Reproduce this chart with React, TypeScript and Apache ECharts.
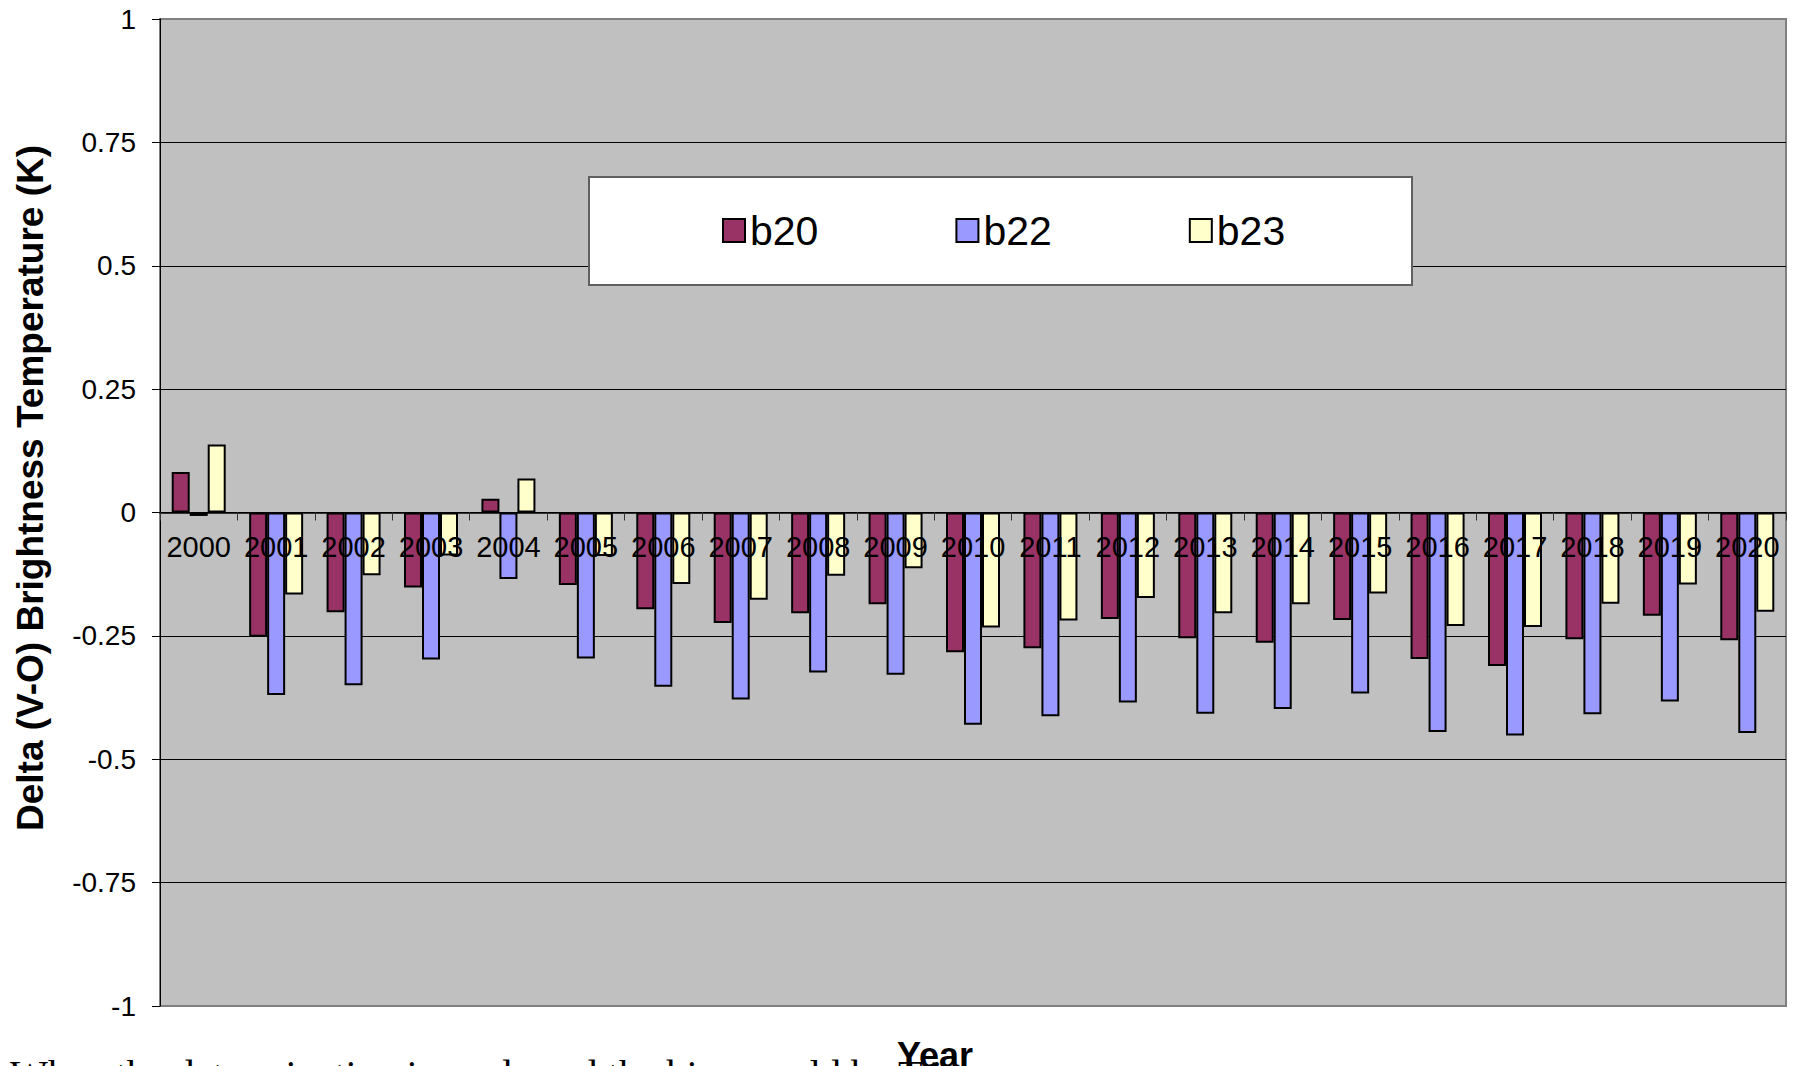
import React, { useEffect, useRef } from "react";
import * as echarts from "echarts";

const years = ["2000", "2001", "2002", "2003", "2004", "2005", "2006", "2007", "2008", "2009", "2010", "2011", "2012", "2013", "2014", "2015", "2016", "2017", "2018", "2019", "2020"];
const b20 = [0.082, -0.252, -0.202, -0.152, 0.028, -0.147, -0.196, -0.224, -0.204, -0.186, -0.283, -0.275, -0.216, -0.255, -0.264, -0.218, -0.297, -0.311, -0.257, -0.209, -0.259];
const b22 = [-0.007, -0.37, -0.35, -0.298, -0.135, -0.296, -0.353, -0.379, -0.324, -0.329, -0.43, -0.413, -0.385, -0.408, -0.398, -0.367, -0.445, -0.452, -0.409, -0.383, -0.447];
const b23 = [0.138, -0.166, -0.127, -0.087, 0.069, -0.088, -0.145, -0.177, -0.128, -0.113, -0.233, -0.219, -0.173, -0.204, -0.186, -0.164, -0.23, -0.232, -0.185, -0.146, -0.201];
const seriesNames = ["b20", "b22", "b23"];
const seriesColors = ["#993366", "#9999FF", "#FFFFCC"];
const yTitle = "Delta (V-O) Brightness Temperature (K)";
const xTitle = "Year";
const bodyText = "When the determination is made and the bias would be T in";

const SANS = "'Liberation Sans', Arial, sans-serif";
const SERIF = "'Liberation Serif', 'Times New Roman', serif";

const GRID_TOP = 19;
const GRID_BOTTOM = 60;
const CHART_H = 1066;

export default function App() {
  const ref = useRef<HTMLDivElement>(null);
  useEffect(() => {
    if (!ref.current) return;
    const chart = echarts.init(ref.current, undefined, { renderer: "svg" });
    const data = [b20, b22, b23];
    const gridH = CHART_H - GRID_TOP - GRID_BOTTOM;
    chart.setOption({
      animation: false,
      backgroundColor: "#ffffff",
      grid: {
        left: 160,
        top: GRID_TOP,
        right: 13,
        bottom: GRID_BOTTOM,
        show: true,
        backgroundColor: "#C0C0C0",
        borderColor: "#808080",
        borderWidth: 2,
      },
      legend: {
        data: seriesNames,
        left: 722,
        top: 210,
        padding: 0,
        itemWidth: 22,
        itemHeight: 23,
        itemGap: 137,
        icon: "rect",
        z: 60,
        textStyle: { fontFamily: SANS, fontSize: 41, color: "#000" },
      },
      xAxis: {
        type: "category",
        data: years,
        position: "bottom",
        offset: -gridH / 2,
        z: 10,
        axisLine: { onZero: false, lineStyle: { color: "#000", width: 1.5 } },
        axisTick: { show: true, length: 8, lineStyle: { color: "#333" } },
        axisLabel: { interval: 0, margin: 20, fontFamily: SANS, fontSize: 29, color: "#000" },
        splitLine: { show: false },
      },
      yAxis: {
        type: "value",
        min: -1,
        max: 1,
        interval: 0.25,
        axisLine: { show: true, lineStyle: { color: "#000", width: 1 } },
        axisTick: { show: true, length: 8, lineStyle: { color: "#000" } },
        axisLabel: { margin: 24, fontFamily: SANS, fontSize: 28, color: "#000" },
        splitLine: { show: true, showMinLine: false, showMaxLine: false, lineStyle: { color: "#000", width: 1 } },
      },
      graphic: [
        {
          type: "rect",
          z: 50,
          shape: { x: 589, y: 177, width: 823, height: 108 },
          style: { fill: "#ffffff", stroke: "#606060", lineWidth: 2 },
        },
        {
          type: "text",
          z: 50,
          x: 30.5,
          y: 488,
          rotation: Math.PI / 2,
          style: { text: yTitle, font: `bold 37px ${SANS}`, fill: "#000", align: "center", verticalAlign: "middle" },
        },
        {
          type: "text",
          z: 40,
          x: 10,
          y: 1074,
          style: { text: bodyText, font: `40px ${SERIF}`, fill: "#000", align: "left", verticalAlign: "middle" },
        },
        {
          type: "text",
          z: 50,
          x: 935,
          y: 1055,
          style: { text: xTitle, font: `bold 36px ${SANS}`, fill: "#000", align: "center", verticalAlign: "middle" },
        },
      ],
      series: seriesNames.map((name, i) => ({
        name,
        type: "bar",
        data: data[i],
        barWidth: 18,
        barGap: "0%",
        itemStyle: { color: seriesColors[i], borderColor: "#000", borderWidth: 2 },
      })),
    });
    return () => chart.dispose();
  }, []);
  return <div ref={ref} style={{ position: "fixed", left: 0, top: 0, width: 1799, height: 1066 }} />;
}
